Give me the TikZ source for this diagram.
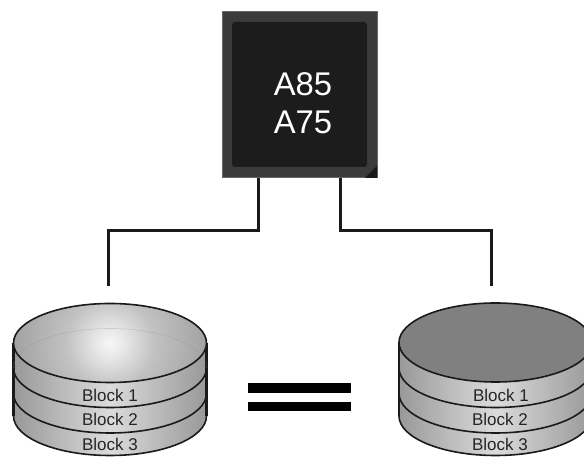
\documentclass[tikz,border=0pt]{standalone}
\usepackage{fontspec}
\setmainfont{Liberation Sans}
\usetikzlibrary{shapes.geometric}
\definecolor{chipouter}{HTML}{3B3B3B}
\definecolor{chipinner}{HTML}{1C1C1C}
\definecolor{diskedge}{HTML}{1A1A1A}
\pgfdeclareradialshading{diskglow}{\pgfpoint{0bp}{0bp}}{%
  color(0bp)=(black!3);color(4bp)=(black!10);color(11bp)=(black!24);color(28bp)=(black!40);color(50bp)=(black!46)}
\tikzset{
  wire/.style={draw=diskedge,line width=3pt},
  bar/.style={fill=black,draw=none},
  disklabel/.style={font=\fontsize{17pt}{18pt}\selectfont,text=black!85,inner sep=0pt},
  outline/.style={draw=diskedge,line width=1.6pt},
  faint/.style={draw=black!45,line width=0.6pt,opacity=0.3},
  layerfill/.style={left color=black!40,right color=black!40,middle color=black!14},
  topellipse/.style={ellipse,minimum width=193pt,minimum height=79pt,inner sep=0pt,outline},
}
\newcommand{\diskstack}[1]{%
  \foreach \cy/\prev in {41/63.5,63.5/89,89/114}{
    \path[layerfill] (#1-96.5pt,\prev pt) -- (#1-96.5pt,\cy pt)
      arc[start angle=180,end angle=360,x radius=96.5pt,y radius=39.5pt]
      -- (#1+96.5pt,\prev pt) arc[start angle=0,end angle=180,x radius=96.5pt,y radius=39.5pt] -- cycle;
    \draw[faint] (#1-96.5pt,\prev pt) arc[start angle=180,end angle=0,x radius=96.5pt,y radius=39.5pt];
    \draw[outline] (#1-96.5pt,\cy pt)
      arc[start angle=180,end angle=360,x radius=96.5pt,y radius=39.5pt];
  }
  \draw[diskedge,line width=2.4pt] (#1-96.5pt,41pt) -- (#1-96.5pt,114pt);
  \draw[diskedge,line width=2.4pt] (#1+96.5pt,41pt) -- (#1+96.5pt,114pt);
}
\begin{document}
\begin{tikzpicture}[x=1pt,y=1pt]
  \useasboundingbox (0,0) rectangle (584,457);
  \clip (0,0) rectangle (584,457);
  \fill[white] (0,0) rectangle (584,457);

  % chip
  \node[draw=black!60,line width=0.5pt,fill=chipouter,minimum width=155pt,minimum height=166pt,inner sep=0pt,anchor=south west] (chip) at (222,279) {};
  \fill[chipinner,rounded corners=3pt] (232,290) rectangle (367,435);
  \fill[black!90] (365,279) -- (377,291) -- (377,279) -- cycle;
  \node[text=white,align=center,inner sep=0pt,font=\fontsize{32.8pt}{38pt}\selectfont] (chiplabel) at (303,354) {A85\\A75};

  % connectors
  \coordinate (leftend) at (108,171);
  \coordinate (rightend) at (491,171);
  \coordinate (leftdrop) at (258.5,279);
  \coordinate (rightdrop) at (340.7,279);
  \draw[wire] (leftdrop) |- (180,226) -| (leftend);
  \draw[wire] (rightdrop) |- (420,226) -| (rightend);

  % left disk
  \diskstack{110pt}
  \node[ellipse,minimum width=193pt,minimum height=79pt,inner sep=0pt,
    path picture={\shade[shading=diskglow] (path picture bounding box.center) circle[radius=100pt];}] (diskleft) at (110,114) {};
  \draw[faint] (13.5,89) arc[start angle=180,end angle=0,x radius=96.5,y radius=39.5];
  \draw[outline] (diskleft.center) ellipse[x radius=96.5,y radius=39.5];
  \node[disklabel] (l1) at (110,62) {Block 1};
  \node[disklabel] (l2) at (110,38) {Block 2};
  \node[disklabel] (l3) at (110,13) {Block 3};

  % equals bars
  \node[bar,minimum width=103pt,minimum height=10pt,inner sep=0pt] (bartop) at (299.5,69) {};
  \node[bar,minimum width=103pt,minimum height=9pt,inner sep=0pt] (barbottom) at (299.5,50.5) {};

  % right disk
  \diskstack{495.5pt}
  \node[topellipse,fill=black!50] (diskright) at (495.5,114.5) {};
  \node[disklabel] (r1) at (501,62) {Block 1};
  \node[disklabel] (r2) at (500,38) {Block 2};
  \node[disklabel] (r3) at (500,13) {Block 3};
\end{tikzpicture}
\end{document}
